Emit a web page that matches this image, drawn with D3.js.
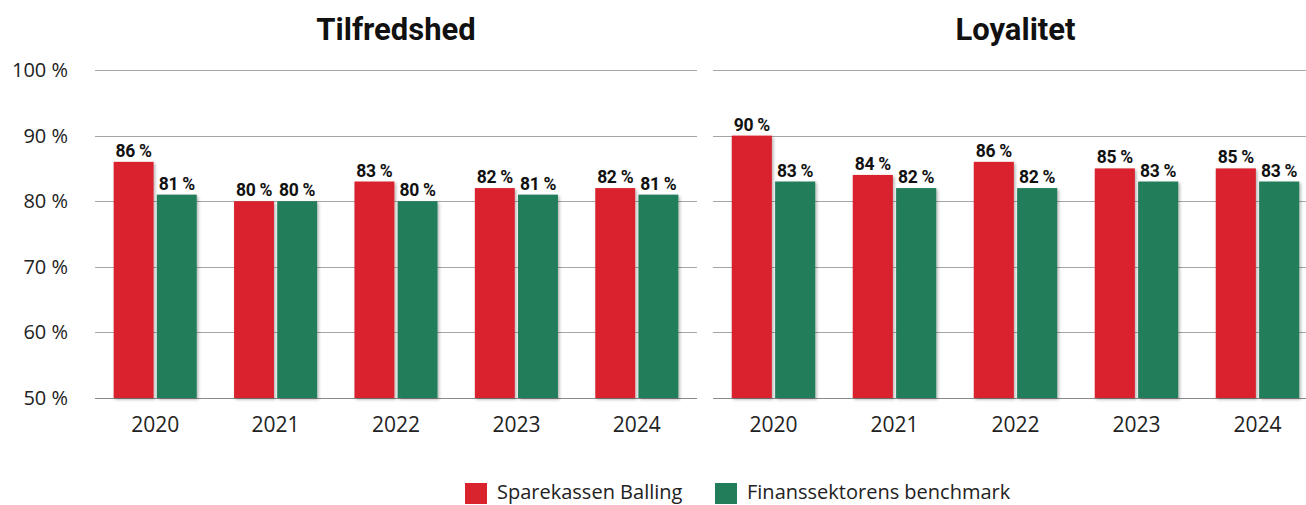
<!DOCTYPE html>
<html><head><meta charset="utf-8">
<script src="https://cdn.jsdelivr.net/npm/d3@7"></script>
<style>body{margin:0;background:#fff}svg{display:block}</style>
</head><body><svg id="c" width="1306" height="505"></svg>
<script>
const years = ["2020","2021","2022","2023","2024"];
const titles = ["Tilfredshed","Loyalitet"];
const seriesNames = ["Sparekassen Balling","Finanssektorens benchmark"];
const tilfredshedBalling = [86,80,83,82,82];
const tilfredshedBench = [81,80,80,81,81];
const loyalitetBalling = [90,84,86,85,85];
const loyalitetBench = [83,82,82,83,83];
const yTicks = [50,60,70,80,90,100];
const colors = ["#d9232d","#227e5a"];

const svg = d3.select("#c");
const defs = svg.append("defs");
const f = defs.append("filter").attr("id","sh").attr("x","-20%").attr("y","-20%").attr("width","150%").attr("height","150%");
f.append("feDropShadow").attr("dx",1.5).attr("dy",1.5).attr("stdDeviation",1.5).attr("flood-color","#000").attr("flood-opacity",0.3);

const y = d3.scaleLinear().domain([50,100]).range([398,70]);
const panels = [
  {title:titles[0], x0:95, x1:697, data:[tilfredshedBalling,tilfredshedBench], axis:true},
  {title:titles[1], x0:713, x1:1318, data:[loyalitetBalling,loyalitetBench], axis:false}
];
panels.forEach(p=>{
  const g = svg.append("g");
  const x = d3.scaleBand().domain(years).range([p.x0,p.x1]).paddingInner(0.31).paddingOuter(0.155);
  const x1 = d3.scaleBand().domain([0,1]).range([0,x.bandwidth()]).paddingInner(0.075);
  g.selectAll("line.grid").data(yTicks).join("line")
    .attr("x1",p.x0).attr("x2",Math.min(p.x1,1306)).attr("y1",d=>Math.round(y(d))+0.5).attr("y2",d=>Math.round(y(d))+0.5)
    .attr("stroke",d=>d===50?"#8a8a8a":"#a6a6a6").attr("stroke-width",1);
  if(p.axis){
    g.selectAll("text.yt").data(yTicks).join("text")
      .attr("x",68).attr("y",d=>y(d)+7).attr("text-anchor","end")
      .attr("font-family","Open Sans, sans-serif").attr("font-size",20).attr("fill","#222")
      .text(d=>d+" %");
  }
  p.data.forEach((arr,si)=>{
    g.selectAll("rect.s"+si).data(arr).join("rect")
      .attr("x",(d,i)=>x(years[i])+x1(si)).attr("width",x1.bandwidth())
      .attr("y",d=>y(d)).attr("height",d=>y(50)-y(d))
      .attr("fill",colors[si]).attr("filter","url(#sh)");
    g.selectAll("text.l"+si).data(arr).join("text")
      .attr("x",(d,i)=>x(years[i])+x1(si)+x1.bandwidth()/2).attr("y",d=>y(d)-5)
      .attr("text-anchor","middle").attr("font-family","Roboto, sans-serif").attr("font-weight","bold")
      .attr("font-size",17.5).attr("letter-spacing",-0.3).attr("fill","#111").text(d=>d+" %");
  });
  g.selectAll("text.xt").data(years).join("text")
    .attr("x",d=>x(d)+x.bandwidth()/2).attr("y",432).attr("text-anchor","middle")
    .attr("font-family","Open Sans, sans-serif").attr("font-size",21).attr("fill","#222").text(d=>d);
  g.append("text").attr("x",(p.x0+Math.min(p.x1,1318))/2).attr("y",40).attr("text-anchor","middle")
    .attr("font-family","Roboto, sans-serif").attr("font-weight","bold").attr("font-size",31).attr("fill","#111").text(p.title);
});
const lg = svg.append("g");
const lx = [465,715];
seriesNames.forEach((n,i)=>{
  lg.append("rect").attr("x",lx[i]).attr("y",483).attr("width",22).attr("height",21).attr("fill",colors[i]);
  lg.append("text").attr("x",lx[i]+32).attr("y",499).attr("font-family","Open Sans, sans-serif").attr("font-size",20).attr("fill","#222").text(n);
});
</script></body></html>
